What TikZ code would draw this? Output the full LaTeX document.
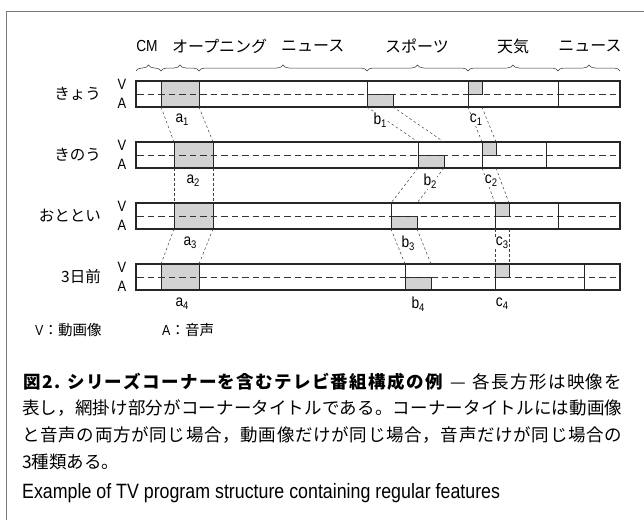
\documentclass[tikz,border=0pt]{standalone}
\usepackage{fontspec}
\setmainfont{Noto Sans CJK JP}
\newfontfamily\jpfont{Noto Sans CJK JP}
\newfontfamily\cond[FakeStretch=0.86]{Liberation Sans}
\usetikzlibrary{decorations.pathreplacing}
\definecolor{shade}{RGB}{210,210,210}
\definecolor{framec}{RGB}{120,120,120}
\newcommand{\lab}[2]{#1\raisebox{-3pt}{\fontsize{11}{11}\selectfont #2}}
\makeatletter
\newcommand{\spreadline}[1]{\hbox to 600pt{\@tfor\spx:=#1\do{\spx\hfil}\unskip}}
\makeatother
\begin{document}
\begin{tikzpicture}[x=1pt,y=-1pt,
  bar/.style={draw=black!85,line width=1.2pt},
  seg/.style={draw=black!85,line width=1pt},
  mid/.style={draw=black!80,dash pattern=on 6.5pt off 4pt,line width=0.7pt},
  fillbox/.style={fill=shade,draw=black!85,line width=1pt},
  link/.style={draw=black!75,dash pattern=on 2.5pt off 2.5pt,line width=0.5pt},
  sublab/.style={font=\cond\fontsize{16}{16}\selectfont,fill=white,inner sep=0.5pt},
  toplab/.style={font=\jpfont\fontsize{16}{16}\selectfont,inner sep=0pt},
  latlab/.style={font=\cond\fontsize{16}{16}\selectfont,inner sep=0pt},
  rowlab/.style={font=\jpfont\fontsize{15.5}{15.5}\selectfont,anchor=east,inner sep=0pt},
  valab/.style={font=\cond\fontsize{15}{15}\selectfont,inner sep=0pt},
  legend/.style={font=\jpfont\fontsize{14.5}{14.5}\selectfont,inner sep=0pt,anchor=west},
  capline/.style={font=\jpfont\fontsize{17.5}{17.5}\selectfont,inner sep=0pt,anchor=west},
  brace/.style={decorate,decoration={brace,amplitude=6pt},draw=black!80,line width=0.5pt}]
\useasboundingbox (0,0) rectangle (644,520);
% frame
\draw[framec,line width=1pt] (6,520) -- (6,11) -- (644,11);

% ---- top labels and braces
\coordinate (b1s) at (136,71); \coordinate (b1e) at (161,71);
\coordinate (b2s) at (161,71); \coordinate (b2e) at (199,71);
\coordinate (b3s) at (199,71); \coordinate (b3e) at (367,71);
\coordinate (b4s) at (367,71); \coordinate (b4e) at (468,71);
\coordinate (b5s) at (468,71); \coordinate (b5e) at (558,71);
\coordinate (b6s) at (558,71); \coordinate (b6e) at (620,71);
\foreach \k in {1,...,6} \draw[brace] (b\k s) -- (b\k e);
\node[latlab] (tCM) at (147,46) {CM};
\node[toplab,anchor=west] (tOP) at (172,46) {オープニング};
\node[toplab,anchor=west] (tNW) at (281,46) {ニュース};
\node[toplab] (tSP) at (417,46) {スポーツ};
\node[toplab] (tWE) at (513,46) {天気};
\node[toplab] (tNW2) at (590,46) {ニュース};

% ---- rows
\def\rowbar#1#2#3#4#5#6#7{%
  % #1 name #2 top y #3 a start #4 a end #5 b start #6 c start #7 news start
  \draw[fillbox] (#3,#2) rectangle (#4,#2+26);
  \draw[fillbox] (#5,#2+13) rectangle (#5+26,#2+26);
  \draw[fillbox] (#6,#2) rectangle (#6+14,#2+13);
  \draw[mid] (137,#2+13) -- (619,#2+13);
  \draw[seg] (#5,#2) -- (#5,#2+26);
  \draw[seg] (#6,#2) -- (#6,#2+26);
  \draw[seg] (#7,#2) -- (#7,#2+26);
  \draw[bar] (136,#2) rectangle (620,#2+26);
  \coordinate (#1aT1) at (#3,#2); \coordinate (#1aT2) at (#4,#2);
  \coordinate (#1aB1) at (#3,#2+26); \coordinate (#1aB2) at (#4,#2+26);
  \coordinate (#1bT1) at (#5,#2); \coordinate (#1bT2) at (#5+26,#2);
  \coordinate (#1bB1) at (#5,#2+26); \coordinate (#1bB2) at (#5+26,#2+26);
  \coordinate (#1cT1) at (#6,#2); \coordinate (#1cT2) at (#6+14,#2);
  \coordinate (#1cB1) at (#6,#2+26); \coordinate (#1cB2) at (#6+14,#2+26);
  \node[valab] (#1V) at (122,#2+3) {V};
  \node[valab] (#1A) at (122,#2+22) {A};
}
\rowbar{r1}{81}{161}{199}{367}{468}{558}
\rowbar{r2}{142}{174}{213}{418}{482}{546}
\rowbar{r3}{203}{174}{213}{391}{495}{558}
\rowbar{r4}{264}{161}{199}{405}{495}{584}

\node[rowlab] (n1) at (101,94) {きょう};
\node[rowlab] (n2) at (101,155) {きのう};
\node[rowlab] (n3) at (101,216) {おととい};
\node[rowlab] (n4) at (101,277) {3日前};

% ---- dashed links
\foreach \u/\v in {r1/r2,r2/r3,r3/r4}{
  \foreach \p in {a,b,c}{
    \draw[link] (\u\p B1) -- (\v\p T1);
    \draw[link] (\u\p B2) -- (\v\p T2);
  }
}

% ---- sublabels
\node[sublab] (la1) at (182,120) {\lab{a}{1}};
\node[sublab] (lb1) at (380,120) {\lab{b}{1}};
\node[sublab] (lc1) at (476,120) {\lab{c}{1}};
\node[sublab] (la2) at (193,181) {\lab{a}{2}};
\node[sublab] (lb2) at (430,181) {\lab{b}{2}};
\node[sublab] (lc2) at (491,181) {\lab{c}{2}};
\node[sublab] (la3) at (190,243) {\lab{a}{3}};
\node[sublab] (lb3) at (408,243) {\lab{b}{3}};
\node[sublab] (lc3) at (502,243) {\lab{c}{3}};
\node[sublab] (la4) at (182,304) {\lab{a}{4}};
\node[sublab] (lb4) at (418,304) {\lab{b}{4}};
\node[sublab] (lc4) at (502,304) {\lab{c}{4}};

% ---- legend
\node[legend] (legV) at (35,330) {{\cond V}：動画像};
\node[legend] (legA) at (162,330) {{\cond A}：音声};

% ---- caption
\node[capline] (cap1) at (22,382) {\spreadline{\bfseries 図2.\ シリーズコーナーを含むテレビ番組構成の例\mdseries\ —\ 各長方形は映像を}};
\node[capline] (cap2) at (22,408) {\spreadline{表し，網掛け部分がコーナータイトルである。コーナータイトルには動画像}};
\node[capline] (cap3) at (22,435) {\spreadline{と音声の両方が同じ場合，動画像だけが同じ場合，音声だけが同じ場合の}};
\node[capline] (cap4) at (22,462) {3種類ある。};
\node[anchor=west,inner sep=0pt,font=\cond\fontsize{20.7}{20.7}\selectfont] (eng) at (22,493)
  {Example of TV program structure containing regular features};
\end{tikzpicture}
\end{document}
